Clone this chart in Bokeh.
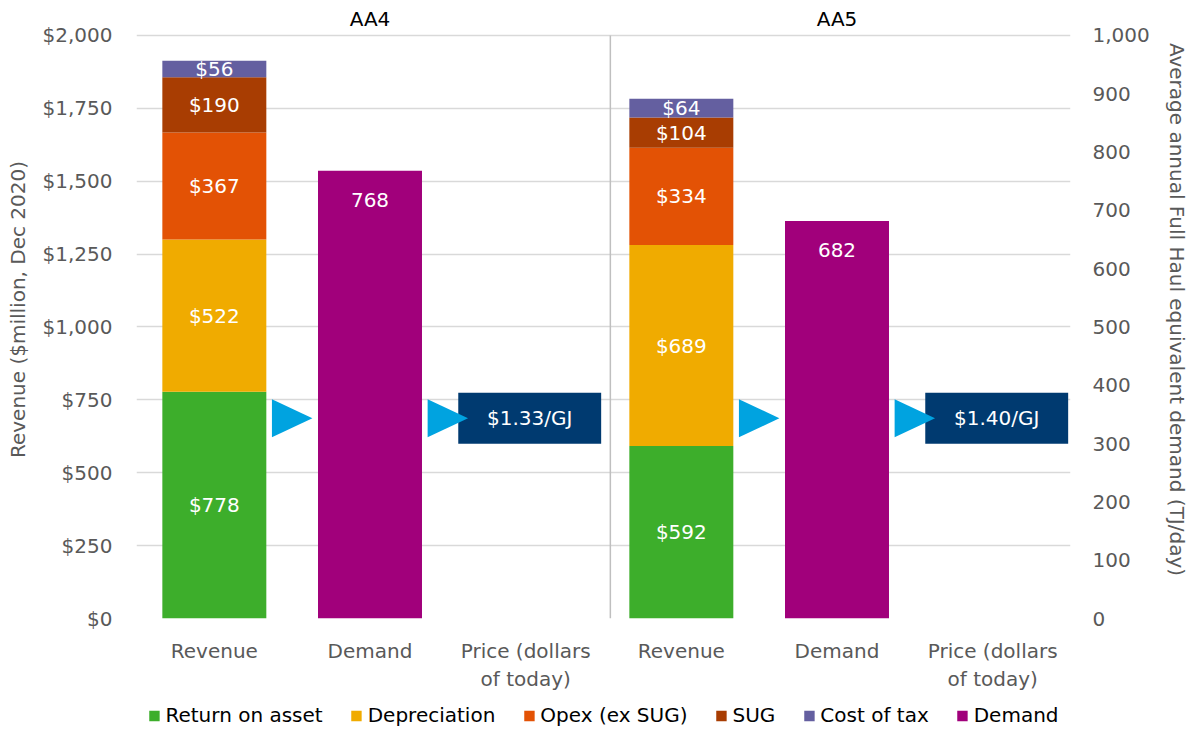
from bokeh.plotting import figure
from bokeh.layouts import column
from bokeh.models import (Range1d, LinearAxis, FixedTicker, NumeralTickFormatter,
                          Legend, LegendItem, ColumnDataSource)
from bokeh.core.properties import value
from bokeh.embed import file_html
from bokeh.resources import INLINE

# ---------------- data ----------------
periods = ["AA4", "AA5"]
categories = ["Revenue", "Demand", "Price (dollars\nof today)"]
components = ["Return on asset", "Depreciation", "Opex (ex SUG)", "SUG", "Cost of tax"]
return_on_asset = [778, 592]
depreciation = [522, 689]
opex = [367, 334]
sug = [190, 104]
cost_of_tax = [56, 64]
demand = [768, 682]          # TJ/day (right axis)
price = [1.33, 1.40]         # $/GJ
left_ticks = [0, 250, 500, 750, 1000, 1250, 1500, 1750, 2000]
right_ticks = [0, 100, 200, 300, 400, 500, 600, 700, 800, 900, 1000]

# ---------------- style ----------------
FONT = "DejaVu Sans"
FS = "20px"
GREY = "#595959"
colors = ["#3dae2b", "#f0ab00", "#e35205", "#a83d02", "#645fa0"]
DEMAND_COLOR = "#a1007b"
NAVY = "#003a70"
CYAN = "#00a3e0"
BAR_W = 0.668
PRICE_Y = 687          # vertical level of price marker (left-axis units)
LEG_H = 28

p = figure(frame_width=934, frame_height=618, output_backend="svg", toolbar_location=None,
           x_range=Range1d(0, 6), y_range=Range1d(0, 2120),
           min_border_left=136, min_border_right=126, min_border_top=0,
           min_border_bottom=729 - 618 - LEG_H)
p.outline_line_color = None
p.background_fill_color = "white"
p.border_fill_color = "white"

n_cat = len(categories)
rev_x = [i * n_cat + 0.5 for i in range(len(periods))]
dem_x = [i * n_cat + 1.5 for i in range(len(periods))]
pri_x = [i * n_cat + 2.5 for i in range(len(periods))]

# stacked revenue
src = ColumnDataSource(dict(x=rev_x, **{c: v for c, v in zip(
    components, [return_on_asset, depreciation, opex, sug, cost_of_tax])}))
rev_renderers = p.vbar_stack(components, x="x", width=BAR_W, color=colors,
                             line_color=None, source=src)

# labels in segments
series = [return_on_asset, depreciation, opex, sug, cost_of_tax]
lx, ly, lt = [], [], []
for j in range(len(periods)):
    base = 0
    for s in series:
        lx.append(rev_x[j]); ly.append(base + s[j] / 2); lt.append("$%d" % s[j])
        base += s[j]
p.text(x=lx, y=ly, text=lt, text_color="white", text_font=value(FONT),
       text_font_size=FS, text_align="center", text_baseline="middle")

# demand
p.extra_y_ranges = {"right": Range1d(0, 1060)}
dem_r = p.vbar(x=dem_x, top=demand, width=BAR_W, color=DEMAND_COLOR,
               line_color=None, y_range_name="right")
p.text(x=dem_x, y=demand, text=[str(d) for d in demand], y_range_name="right",
       y_offset=29, text_color="white", text_font=value(FONT), text_font_size=FS,
       text_align="center", text_baseline="middle")

# price boxes
box_x = [x + 0.026 for x in pri_x]
p.rect(x=box_x, y=[PRICE_Y] * 2, width=0.918, height=175, color=NAVY, line_color=None)
p.text(x=box_x, y=[PRICE_Y] * 2, text=["$%.2f/GJ" % v for v in price],
       text_color="white", text_font=value(FONT), text_font_size=FS,
       text_align="center", text_baseline="middle")

# arrows
xs, ys = [], []
for c in dem_x + pri_x:
    xs.append([c - 0.63, c - 0.37, c - 0.63])
    ys.append([PRICE_Y - 65, PRICE_Y, PRICE_Y + 65])
p.patches(xs=xs, ys=ys, color=CYAN, line_color=None)

# separator
sep = n_cat + 0.044
p.segment(x0=[sep], y0=[0], x1=[sep], y1=[left_ticks[-1]], color="#bfbfbf", line_width=1.5)

# period titles
p.text(x=dem_x, y=[2058] * 2, text=periods, text_color="black", text_font=value(FONT),
       text_font_size=FS, text_align="center", text_baseline="middle")

# axes
tick_pos = sorted(rev_x + dem_x + pri_x)
p.xaxis.ticker = FixedTicker(ticks=tick_pos)
p.xaxis.major_label_overrides = {t: categories[k % n_cat] for k, t in enumerate(tick_pos)}
p.xgrid.visible = False
p.ygrid.ticker = FixedTicker(ticks=left_ticks)
p.ygrid.grid_line_color = "#d9d9d9"
p.ygrid.grid_line_width = 1.5

p.yaxis.ticker = FixedTicker(ticks=left_ticks)
p.yaxis.formatter = NumeralTickFormatter(format="$0,0")
p.yaxis.axis_label = "Revenue ($million, Dec 2020)"

rax = LinearAxis(y_range_name="right", ticker=FixedTicker(ticks=right_ticks),
                 formatter=NumeralTickFormatter(format="0,0"),
                 axis_label="Average annual Full Haul equivalent demand (TJ/day)")
p.add_layout(rax, "right")

for ax in [p.xaxis[0], p.yaxis[0], rax]:
    ax.axis_line_color = None
    ax.major_tick_line_color = None
    ax.minor_tick_line_color = None
    ax.major_tick_in = 0
    ax.major_tick_out = 0
    ax.minor_tick_in = 0
    ax.minor_tick_out = 0
    ax.major_label_text_color = GREY
    ax.major_label_text_font = FONT
    ax.major_label_text_font_size = FS
    ax.axis_label_text_color = GREY
    ax.axis_label_text_font = FONT
    ax.axis_label_text_font_size = FS
    ax.axis_label_text_font_style = "normal"
p.xaxis.major_label_standoff = 20
p.yaxis.major_label_standoff = 24
rax.major_label_standoff = 22
p.yaxis.axis_label_standoff = 10
rax.axis_label_standoff = 12

# legend in its own strip below the chart (zero-height proxy bars, never visible)
lg = figure(width=1196, height=LEG_H, output_backend="svg", toolbar_location=None,
            x_range=Range1d(0, 1), y_range=Range1d(0, 1),
            min_border_left=0, min_border_right=0, min_border_top=0, min_border_bottom=0)
lg.axis.visible = False
lg.grid.visible = False
lg.outline_line_color = None
leg_renderers = [lg.vbar(x=[0.5], top=[0], bottom=[0], width=0, fill_color=c, line_color=None)
                 for c in colors + [DEMAND_COLOR]]
legend = Legend(items=[LegendItem(label=c, renderers=[r]) for c, r in
                       zip(components + ["Demand"], leg_renderers)],
                orientation="horizontal", location="center",
                glyph_width=13, glyph_height=13, label_standoff=5, spacing=27,
                label_text_font=FONT, label_text_font_size=FS, label_text_color="black",
                border_line_color=None, background_fill_alpha=0, padding=0, margin=0)
lg.add_layout(legend, "center")

layout = column(p, lg, spacing=0)
open("out.html", "w").write(file_html(layout, INLINE))
